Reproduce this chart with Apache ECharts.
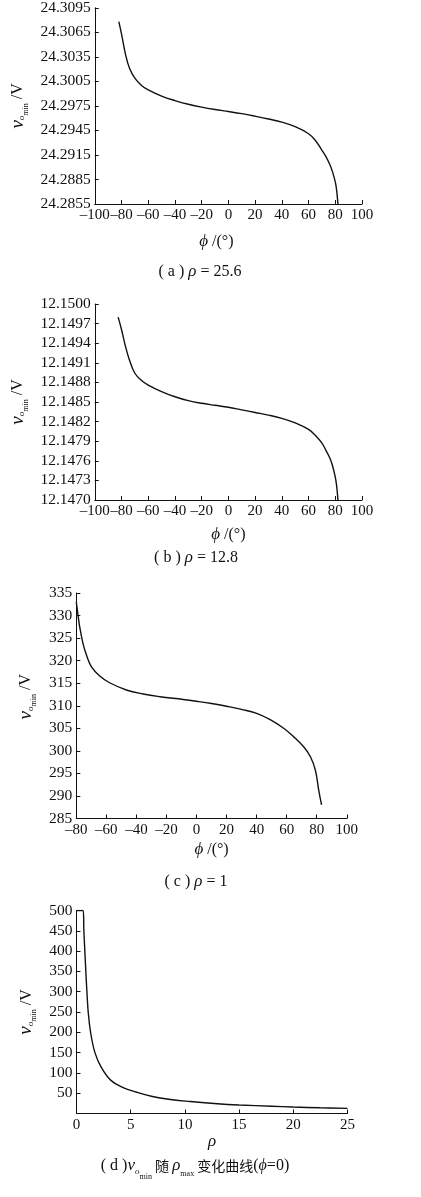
<!DOCTYPE html>
<html>
<head>
<meta charset="utf-8">
<script src="https://cdn.jsdelivr.net/npm/echarts@6/dist/echarts.min.js"></script>
<style>
  html, body { margin: 0; padding: 0; background: #fff; }
  #main { width: 421px; height: 1197px; }
</style>
</head>
<body>
<div id="main"></div>
<script>
// (a) rho = 25.6
const phiA = [-82, -80, -77, -74, -70, -65, -60, -50, -40, -30, -20, -10, 0, 10, 20, 30, 40, 50, 60, 65, 70, 73, 76, 78, 80, 81, 82]
const voA = [24.3078, 24.3063, 24.3038, 24.3021, 24.3009, 24.3000, 24.29945, 24.2987, 24.29815, 24.2977, 24.29734, 24.29705, 24.29681,
  24.29655, 24.29624, 24.2959, 24.29551, 24.29495, 24.29409, 24.2933, 24.29207, 24.2913, 24.2903, 24.2894, 24.2882, 24.2872, 24.2855]
const yTicksA = [24.2855, 24.2885, 24.2915, 24.2945, 24.2975, 24.3005, 24.3035, 24.3065, 24.3095]

// (b) rho = 12.8
const phiB = [-82.5, -80, -77, -74, -70, -65, -60, -50, -40, -30, -20, -10, 0, 10, 20, 30, 40, 50, 60, 65, 70, 73, 76, 78, 80, 81, 82]
const voB = [12.1498, 12.14961, 12.14935, 12.14914, 12.14894, 12.14883, 12.14876, 12.14866, 12.14858, 12.14852, 12.14848, 12.14845, 12.14842,
  12.14838, 12.14834, 12.1483, 12.14825, 12.14818, 12.14808, 12.14799, 12.14787, 12.14776, 12.14764, 12.14752, 12.14735, 12.14722, 12.147]
const yTicksB = [12.147, 12.1473, 12.1476, 12.1479, 12.1482, 12.1485, 12.1488, 12.1491, 12.1494, 12.1497, 12.15]

// (c) rho = 1
const phiC = [-80, -78.9, -77.8, -75.6, -73.3, -70, -64.4, -57.8, -46.7, -35.6, -24.4, -8.9, 0, 10, 20, 30, 40, 49, 58, 64.7,
  71.3, 75.8, 79.1, 81.3, 83.2]
const voC = [333, 330.2, 327.6, 323.9, 321.3, 318.7, 316.6, 315.1, 313.5, 312.6, 312, 311.4, 311, 310.5, 309.9, 309.2, 308.3, 306.9,
  305, 303.1, 300.9, 298.7, 295.7, 291.3, 288]

// (d) vo_min vs rho (phi = 0)
const rhoD = [0, 0.62, 0.68, 0.77, 0.86, 0.96, 1.08, 1.3, 1.7, 2.3, 3.2, 4.3, 5.5, 7, 8.5, 10.5, 13, 15, 18, 20, 22.5, 25]
const voD = [500, 500, 450, 400, 350, 300, 250, 200, 150, 113, 81, 64, 53, 42, 35, 29.5, 24, 21, 18, 16, 14, 12.5]

const FONT = '"Liberation Serif", "Times New Roman", "Noto Sans CJK SC", serif'
const black = '#111'

const pair = (xs, ys) => xs.map((x, i) => [x, ys[i]])
const minus = (v) => String(v).replace('-', '\u2013')

const yNameRich = {
  v: { fontFamily: FONT, fontStyle: 'italic', fontSize: 19, lineHeight: 24, color: black },
  o: { fontFamily: FONT, fontStyle: 'italic', fontSize: 9, color: black, verticalAlign: 'bottom', padding: [0, 0, 3, 0] },
  m: { fontFamily: FONT, fontSize: 8, color: black, verticalAlign: 'bottom' },
  t: { fontFamily: FONT, fontSize: 16, lineHeight: 24, color: black }
}
const xNameRich = {
  p: { fontFamily: FONT, fontStyle: 'italic', fontSize: 17, lineHeight: 20, color: black },
  r: { fontFamily: FONT, fontStyle: 'italic', fontSize: 17, lineHeight: 20, color: black },
  t: { fontFamily: FONT, fontSize: 16, lineHeight: 20, color: black }
}

function xAxis(idx, min, max, interval, nameText, gap, pad) {
  return {
    type: 'value', gridIndex: idx, min: min, max: max, interval: interval,
    name: nameText, nameLocation: 'middle', nameGap: gap,
    nameTextStyle: { rich: xNameRich, padding: pad || 0 },
    axisLine: { onZero: false, lineStyle: { color: black, width: 1 } },
    axisTick: { inside: true, length: 4, lineStyle: { color: black } },
    axisLabel: { fontFamily: FONT, fontSize: 15, color: black, margin: 4, hideOverlap: false, formatter: minus },
    splitLine: { show: false }
  }
}

function yAxis(idx, min, max, gap, extra, pad) {
  return Object.assign({
    type: 'value', gridIndex: idx, min: min, max: max,
    name: '{v|v}{o|o}{m|min}{t| /V}', nameLocation: 'middle', nameGap: gap,
    nameTextStyle: { rich: yNameRich, padding: pad || 0 },
    axisLine: { show: true, onZero: false, lineStyle: { color: black, width: 1 } },
    axisTick: { show: true, inside: true, length: 4, lineStyle: { color: black } },
    axisLabel: { fontFamily: FONT, fontSize: 15.5, color: black, margin: 4, showMinLabel: true, showMaxLabel: true },
    splitLine: { show: false }
  }, extra)
}

function line(idx, data) {
  return {
    type: 'line', xAxisIndex: idx, yAxisIndex: idx, data: data,
    showSymbol: false, smooth: 0.4,
    lineStyle: { color: black, width: 1.4 }
  }
}

const capRich = {
  t: { fontFamily: FONT, fontSize: 16, fill: black },
  r: { fontFamily: FONT, fontStyle: 'italic', fontSize: 17, fill: black },
  v: { fontFamily: FONT, fontStyle: 'italic', fontSize: 17, fill: black },
  o: { fontFamily: FONT, fontStyle: 'italic', fontSize: 9, fill: black, verticalAlign: 'bottom', padding: [0, 0, 2, 0] },
  m: { fontFamily: FONT, fontSize: 8, fill: black, verticalAlign: 'bottom', padding: [0, 0, -3, 0] },
  s: { fontFamily: FONT, fontSize: 8, fill: black, verticalAlign: 'bottom' },
  c: { fontFamily: '"Noto Sans CJK SC", sans-serif', fontSize: 14, fill: black },
  p: { fontFamily: FONT, fontStyle: 'italic', fontSize: 16, fill: black }
}

function caption(x, y, text) {
  return {
    type: 'text', x: x, y: y,
    style: { text: text, align: 'center', verticalAlign: 'middle', rich: capRich, fill: black, lineHeight: 24 }
  }
}

const chart = echarts.init(document.getElementById('main'), null, { renderer: 'canvas' })

const tickA = { show: true, inside: true, length: 4, lineStyle: { color: black }, customValues: yTicksA }
const tickB = { show: true, inside: true, length: 4, lineStyle: { color: black }, customValues: yTicksB }
const fixed4 = (v) => v.toFixed(4)

chart.setOption({
  backgroundColor: '#fff',
  animation: false,
  grid: [
    { left: 92, top: 7, width: 270, height: 197 },
    { left: 91.5, top: 304, width: 270.5, height: 196 },
    { left: 76.3, top: 593, width: 270.5, height: 225.5 },
    { left: 76.5, top: 910.5, width: 271, height: 203 }
  ],
  xAxis: [
    xAxis(0, -100, 100, 20, '{p|\u03d5}{t| /(\u00b0)}', 28, [0, 24, 0, 0]),
    xAxis(1, -100, 100, 20, '{p|\u03d5}{t| /(\u00b0)}', 25),
    xAxis(2, -80, 100, 20, '{p|\u03d5}{t| /(\u00b0)}', 21),
    xAxis(3, 0, 25, 5, '{r|\u03c1}', 11)
  ],
  yAxis: [
    yAxis(0, 24.2855, 24.3095, 55, {
      axisTick: tickA,
      axisLabel: { fontFamily: FONT, fontSize: 15.5, color: black, margin: 4, customValues: yTicksA, formatter: fixed4 }
    }),
    yAxis(1, 12.147, 12.15, 54, {
      axisTick: tickB,
      axisLabel: { fontFamily: FONT, fontSize: 15.5, color: black, margin: 4, customValues: yTicksB, formatter: fixed4 }
    }),
    yAxis(2, 285, 335, 28, { interval: 5 }, [0, 0, 0, 18]),
    yAxis(3, 0, 500, 29, {
      interval: 50,
      axisLabel: { fontFamily: FONT, fontSize: 15.5, color: black, margin: 4, showMinLabel: false }
    })
  ],
  series: [
    line(0, pair(phiA, voA)),
    line(1, pair(phiB, voB)),
    line(2, pair(phiC, voC)),
    line(3, pair(rhoD, voD))
  ],
  graphic: [
    caption(200, 272, '{t|( a ) }{r|\u03c1}{t| = 25.6}'),
    caption(196, 558, '{t|( b ) }{r|\u03c1}{t| = 12.8}'),
    caption(196, 882, '{t|( c ) }{r|\u03c1}{t| = 1}'),
    caption(195, 1166, '{t|( d )}{v|v}{o|o}{m|min}{c| 随 }{r|\u03c1}{s|max}{c| 变化曲线}{t|(}{p|\u03d5}{t|=0)}')
  ]
})
</script>
</body>
</html>
